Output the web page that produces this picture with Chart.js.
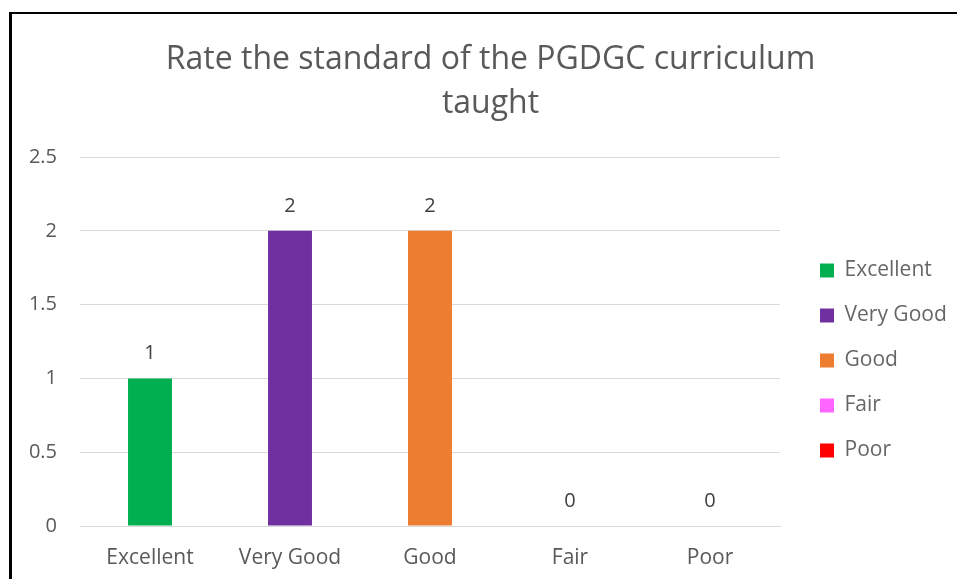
<!DOCTYPE html>
<html><head><meta charset="utf-8">
<script src="https://cdn.jsdelivr.net/npm/chart.js@4"></script>
<style>
html,body{margin:0;padding:0;background:#fff;overflow:hidden;width:957px;height:579px}
#frame{position:absolute;left:9px;top:12px;width:1000px;height:1000px;border-left:3px solid #000;border-top:2px solid #000;}
canvas{position:absolute;left:0;top:0}
</style></head><body>
<div id="frame"></div>
<canvas id="c" width="957" height="579"></canvas>
<script>
const categories = ['Excellent', 'Very Good', 'Good', 'Fair', 'Poor'];
const counts = [1, 2, 2, 0, 0];
const barColors = ['#00B050', '#7030A0', '#ED7D31', '#FF66FF', '#FF0000'];
const yMax = 2.5;
const yStep = 0.5;
const titleLines = ['Rate the standard of the PGDGC curriculum', 'taught'];

const FONT = '"Open Sans", Lato, sans-serif';

const valueLabels = {
  id: 'valueLabels',
  afterDatasetsDraw(chart) {
    const ctx = chart.ctx;
    const meta = chart.getDatasetMeta(0);
    ctx.save();
    ctx.font = '20px ' + FONT;
    ctx.fillStyle = '#404040';
    ctx.textAlign = 'center';
    ctx.textBaseline = 'middle';
    meta.data.forEach((bar, i) => {
      ctx.fillText(String(counts[i]), bar.x, bar.y - 25);
    });
    ctx.restore();
  }
};

const boxTweaks = {
  id: 'boxTweaks',
  beforeLayout(chart) {
    const lg = chart.legend;
    if (lg && !lg._wrapped) {
      const orig = lg.fit;
      lg.fit = function () { orig.call(this); this.width = 161; };
      lg._wrapped = true;
    }
    const tb = chart.titleBlock;
    if (tb && !tb._wrapped) {
      const origDraw = tb.draw;
      tb.draw = function () {
        const ctx = this.ctx;
        ctx.save();
        ctx.translate(12, 0);
        origDraw.apply(this, arguments);
        ctx.restore();
      };
      tb._wrapped = true;
    }
  }
};

new Chart(document.getElementById('c'), {
  type: 'bar',
  data: {
    labels: categories,
    datasets: [{
      label: 'Count',
      data: counts,
      backgroundColor: barColors,
      borderWidth: 0,
      categoryPercentage: 1,
      barPercentage: 0.314
    }]
  },
  options: {
    responsive: false,
    animation: false,
    devicePixelRatio: 1,
    layout: { padding: 0 },
    plugins: {
      title: {
        display: true,
        text: titleLines,
        color: '#595959',
        font: { family: FONT, size: 32, weight: 'normal', lineHeight: 1.375 },
        padding: { top: 38, bottom: 31 }
      },
      legend: {
        position: 'right',
        align: 'start',
        title: { display: true, text: ' ', font: { size: 10, lineHeight: 1 }, padding: { top: 226, bottom: 0 } },
        labels: {
          color: '#595959',
          font: { family: FONT, size: 21 },
          boxWidth: 14,
          boxHeight: 14,
          padding: 24,
          generateLabels(chart) {
            return categories.map((c, i) => ({
              text: c,
              fillStyle: barColors[i],
              strokeStyle: barColors[i],
              lineWidth: 0,
              hidden: false,
              index: i,
              datasetIndex: 0
            }));
          }
        },
        onClick: null
      },
      tooltip: { enabled: false }
    },
    scales: {
      x: {
        grid: { display: false, drawTicks: false },
        border: { display: true, color: '#D9D9D9', width: 1 },
        ticks: { color: '#595959', font: { family: FONT, size: 21 }, padding: 19, maxRotation: 0 },
        afterFit(s) { s.height = 53; }
      },
      y: {
        min: 0,
        max: yMax,
        ticks: { stepSize: yStep, color: '#595959', font: { family: FONT, size: 20 }, padding: 23,
                 callback: v => String(v) },
        grid: { color: '#D9D9D9', lineWidth: 1, drawTicks: false },
        border: { display: false },
        afterFit(s) { s.width = 80; }
      },
      gap: {
        position: 'right',
        display: true,
        grid: { display: false, drawTicks: false },
        border: { display: false },
        ticks: { display: false },
        afterFit(s) { s.width = 16; }
      }
    }
  },
  plugins: [valueLabels, boxTweaks]
});
</script>
</body></html>
